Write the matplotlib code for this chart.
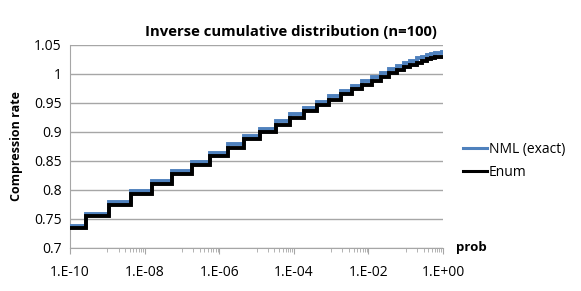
import math
import matplotlib
matplotlib.use("Agg")
import matplotlib.pyplot as plt
from matplotlib.lines import Line2D
from matplotlib.ticker import FixedLocator, FuncFormatter

# step edges on the prob axis (where the rate jumps to the next level)
prob_edges = [1e-10, 2.72e-10, 1.12e-9, 4.37e-9, 1.60e-8, 5.55e-8, 1.82e-7,
              5.68e-7, 1.68e-6, 4.72e-6, 1.27e-5, 3.24e-5, 7.90e-5, 1.84e-4,
              4.12e-4, 8.80e-4, 1.80e-3, 3.54e-3, 6.68e-3, 1.21e-2, 2.11e-2,
              3.54e-2, 5.73e-2, 8.92e-2, 0.134, 0.195, 0.273, 0.371, 0.488,
              0.622, 0.770, 0.927, 1.0]

nml_rate = [0.7387, 0.7591, 0.7787, 0.7974, 0.8152, 0.8322, 0.8485, 0.8639,
            0.8787, 0.8926, 0.9059, 0.9185, 0.9304, 0.9416, 0.9522, 0.9620,
            0.9713, 0.9799, 0.9879, 0.9952, 1.0020, 1.0082, 1.0137, 1.0187,
            1.0230, 1.0268, 1.0300, 1.0326, 1.0346, 1.0360, 1.0369, 1.0372]

enum_rate = [0.7350, 0.7552, 0.7745, 0.7929, 0.8105, 0.8274, 0.8434, 0.8587,
             0.8732, 0.8871, 0.9002, 0.9126, 0.9244, 0.9354, 0.9459, 0.9557,
             0.9648, 0.9733, 0.9812, 0.9885, 0.9952, 1.0013, 1.0068, 1.0117,
             1.0160, 1.0198, 1.0229, 1.0255, 1.0275, 1.0289, 1.0298, 1.0301]

y_ticks = [0.7, 0.75, 0.8, 0.85, 0.9, 0.95, 1.0, 1.05]
x_ticks = [1e-10, 1e-8, 1e-6, 1e-4, 1e-2, 1e0]

plt.rcParams['font.family'] = ['Open Sans', 'DejaVu Sans']

fig = plt.figure(figsize=(5.81, 2.91), dpi=100)
ax = fig.add_axes([0.1205, 0.1478, 0.642, 0.6976])

blue = '#4f81bd'
ax.stairs(nml_rate, prob_edges, baseline=None, color=blue, lw=2.8, zorder=3)
ax.stairs(enum_rate, prob_edges, baseline=None, color='black', lw=2.8, zorder=4)

ax.set_xscale('log')
ax.set_xlim(1e-10, 1)
ax.set_ylim(0.7, 1.05)

ax.yaxis.set_major_locator(FixedLocator(y_ticks))
ax.yaxis.set_major_formatter(FuncFormatter(lambda v, p: ('%.2f' % v).rstrip('0').rstrip('.')))
ax.xaxis.set_major_locator(FixedLocator(x_ticks))
ax.xaxis.set_major_formatter(FuncFormatter(lambda v, p: '1.E%+03d' % round(math.log10(v))))
minor = [j * 10.0 ** e for e in (-9, -7, -5, -3, -1) for j in range(1, 10)]
ax.xaxis.set_minor_locator(FixedLocator(minor))
ax.xaxis.set_minor_formatter(FuncFormatter(lambda v, p: ''))

ax.grid(axis='y', color='#a6a6a6', lw=1)
ax.set_axisbelow(True)
for s in ('top', 'right'):
    ax.spines[s].set_visible(False)
for s in ('left', 'bottom'):
    ax.spines[s].set_color('#a6a6a6')
ax.tick_params(axis='y', length=0, labelsize=10, pad=6)
ax.tick_params(axis='x', which='major', length=4, color='#a6a6a6', labelsize=10, pad=8)
ax.tick_params(axis='x', which='minor', length=3, color='#a6a6a6')

fig.text(0.5, 0.89, 'Inverse cumulative distribution (n=100)', ha='center', va='center',
         fontsize=10.7, fontweight='bold')
ax.set_ylabel('Compression rate', fontsize=9, fontweight='bold', labelpad=8)
ax.text(1.035, 0.0, 'prob', transform=ax.transAxes, ha='left', va='center',
        fontsize=9.5, fontweight='bold')

handles = [Line2D([], [], color=blue, lw=2.2), Line2D([], [], color='black', lw=2.2)]
ax.legend(handles, ['NML (exact)', 'Enum'], loc='center left',
          bbox_to_anchor=(1.02, 0.43), frameon=False, fontsize=10,
          handlelength=1.7, handletextpad=0.15, labelspacing=0.6)

fig.savefig('out.png', dpi=100)
